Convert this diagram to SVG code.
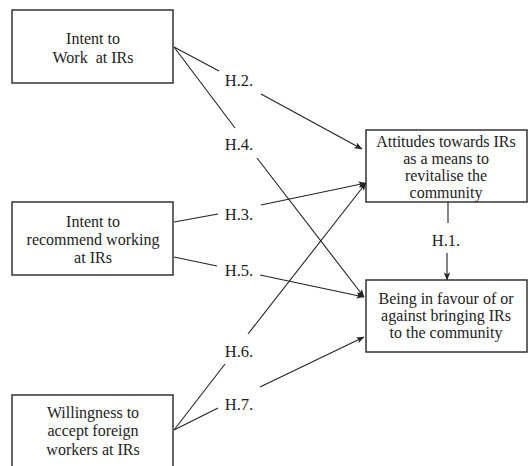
<svg xmlns="http://www.w3.org/2000/svg" width="529" height="466" viewBox="0 0 529 466">
<style>
.box{fill:#fff;stroke:#333;stroke-width:1.5}
.t{font-family:"Liberation Serif","Times New Roman",serif;font-size:16px;fill:#222;text-anchor:middle;white-space:pre}
.lbl{font-family:"Liberation Serif","Times New Roman",serif;font-size:16.5px;fill:#222;text-anchor:middle}
.c{stroke:#222;stroke-width:1.1;fill:none}
</style>
<defs>
<marker id="ah" viewBox="0 0 10 8" refX="9.5" refY="4" markerWidth="8" markerHeight="6.4" markerUnits="userSpaceOnUse" orient="auto">
<path d="M0,0 L10,4 L0,8 L2.5,4 z" fill="#222"/>
</marker>
</defs>
<rect width="529" height="466" fill="#fff"/>
<g id="connectors">
<path class="c" d="M174,47 L219,71"/>
<path class="c" d="M261,94 L362,149" marker-end="url(#ah)"/>
<path class="c" d="M174,47 L235,128"/>
<path class="c" d="M257,158 L364,297" marker-end="url(#ah)"/>
<path class="c" d="M174,222 L218,214"/>
<path class="c" d="M261,205 L366,183" marker-end="url(#ah)"/>
<path class="c" d="M174,257 L217,266"/>
<path class="c" d="M260,275 L364,297" marker-end="url(#ah)"/>
<path class="c" d="M174,430 L225,364"/>
<path class="c" d="M248,334 L366,183" marker-end="url(#ah)"/>
<path class="c" d="M174,430 L218,408"/>
<path class="c" d="M260,387 L364,337" marker-end="url(#ah)"/>
<path class="c" d="M448,202 L448,223"/>
<path class="c" d="M447,253 L447,280" marker-end="url(#ah)"/>
<text class="lbl" x="239" y="86">H.2.</text>
<text class="lbl" x="239" y="150">H.4.</text>
<text class="lbl" x="239" y="220">H.3.</text>
<text class="lbl" x="239" y="276">H.5.</text>
<text class="lbl" x="239" y="357">H.6.</text>
<text class="lbl" x="239" y="410">H.7.</text>
<text class="lbl" x="446" y="246">H.1.</text>
</g>
<g id="n1">
<rect class="box" x="12" y="10" width="161" height="73"/>
<text class="t" x="93" y="44">Intent to</text>
<text class="t" x="93" y="63">Work  at IRs</text>
</g>
<g id="n2">
<rect class="box" x="12" y="202" width="161" height="73"/>
<text class="t" x="93" y="227">Intent to</text>
<text class="t" x="93" y="245">recommend working</text>
<text class="t" x="93" y="263">at IRs</text>
</g>
<g id="n3">
<rect class="box" x="12" y="395" width="161" height="80"/>
<text class="t" x="93" y="418">Willingness to</text>
<text class="t" x="93" y="436">accept foreign</text>
<text class="t" x="93" y="455">workers at IRs</text>
</g>
<g id="n4">
<rect class="box" x="366" y="130" width="161" height="72"/>
<text class="t" x="446" y="147">Attitudes towards IRs</text>
<text class="t" x="446" y="164">as a means to</text>
<text class="t" x="446" y="181">revitalise the</text>
<text class="t" x="446" y="198">community</text>
</g>
<g id="n5">
<rect class="box" x="366" y="280" width="161" height="72"/>
<text class="t" x="446" y="304">Being in favour of or</text>
<text class="t" x="446" y="321">against bringing IRs</text>
<text class="t" x="446" y="338">to the community</text>
</g>
</svg>
